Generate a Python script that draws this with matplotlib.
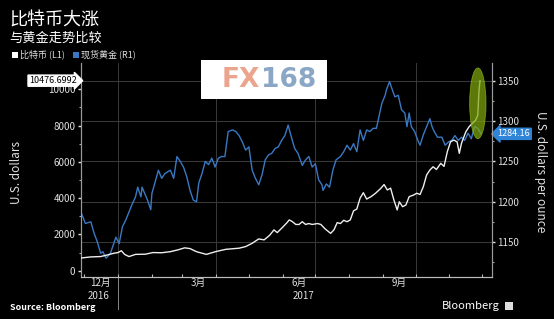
import matplotlib
matplotlib.use('Agg')
import matplotlib.pyplot as plt
import matplotlib.dates as mdates
from matplotlib.patches import Ellipse, Rectangle
from matplotlib.lines import Line2D
from matplotlib.transforms import blended_transform_factory
import pandas as pd
import numpy as np

plt.rcParams['font.family'] = ['Noto Sans CJK SC', 'DejaVu Sans']

title = "比特币大涨"
subtitle = "与黄金走势比较"
btc_label = "比特币 (L1)"
gold_label = "现货黄金 (R1)"

gold_dates = ["2016-11-28", "2016-12-02", "2016-12-07", "2016-12-10", "2016-12-13", "2016-12-16",
              "2016-12-18", "2016-12-21", "2016-12-25", "2016-12-30", "2017-01-02", "2017-01-05",
              "2017-01-08", "2017-01-13", "2017-01-17", "2017-01-19", "2017-01-22", "2017-01-23",
              "2017-01-28", "2017-01-31", "2017-02-01", "2017-02-07", "2017-02-10", "2017-02-13",
              "2017-02-18", "2017-02-21", "2017-02-24", "2017-02-27", "2017-03-02", "2017-03-05",
              "2017-03-08", "2017-03-11", "2017-03-14", "2017-03-16", "2017-03-19", "2017-03-22",
              "2017-03-25", "2017-03-28", "2017-03-31", "2017-04-03", "2017-04-06", "2017-04-09",
              "2017-04-12", "2017-04-16", "2017-04-19", "2017-04-22", "2017-04-25", "2017-04-28",
              "2017-05-01", "2017-05-04", "2017-05-07", "2017-05-10", "2017-05-13", "2017-05-16",
              "2017-05-19", "2017-05-22", "2017-05-25", "2017-05-28", "2017-05-31", "2017-06-03",
              "2017-06-06", "2017-06-09", "2017-06-12", "2017-06-15", "2017-06-19", "2017-06-22",
              "2017-06-25", "2017-06-28", "2017-07-01", "2017-07-04", "2017-07-07", "2017-07-08",
              "2017-07-11", "2017-07-14", "2017-07-17", "2017-07-20", "2017-07-24", "2017-07-27",
              "2017-07-30", "2017-08-02", "2017-08-05", "2017-08-08", "2017-08-11", "2017-08-14",
              "2017-08-17", "2017-08-20", "2017-08-23", "2017-08-26", "2017-08-29", "2017-08-31",
              "2017-09-03", "2017-09-04", "2017-09-07", "2017-09-10", "2017-09-12", "2017-09-15",
              "2017-09-18", "2017-09-21", "2017-09-23", "2017-09-25", "2017-09-27", "2017-09-30",
              "2017-10-03", "2017-10-05", "2017-10-08", "2017-10-11", "2017-10-14", "2017-10-16",
              "2017-10-18", "2017-10-21", "2017-10-25", "2017-10-28", "2017-10-31", "2017-11-03",
              "2017-11-06", "2017-11-09", "2017-11-12", "2017-11-15", "2017-11-18", "2017-11-21",
              "2017-11-24", "2017-11-27", "2017-11-30"]
gold_values = [1187, 1173, 1175, 1161, 1150, 1136,
               1138, 1130, 1136, 1156, 1148, 1169,
               1177, 1194, 1206, 1218, 1206, 1218,
               1202, 1190, 1210, 1239, 1229, 1235,
               1239, 1229, 1256, 1250, 1243, 1231,
               1214, 1202, 1200, 1223, 1235, 1250,
               1246, 1254, 1243, 1254, 1256, 1256,
               1287, 1289, 1287, 1282, 1274, 1264,
               1268, 1239, 1229, 1221, 1233, 1252,
               1258, 1260, 1266, 1268, 1276, 1282,
               1295, 1280, 1266, 1260, 1245, 1252,
               1256, 1243, 1247, 1227, 1221, 1214,
               1222, 1218, 1239, 1252, 1256, 1262,
               1270, 1264, 1272, 1262, 1289, 1276,
               1289, 1287, 1291, 1291, 1310, 1322,
               1332, 1338, 1349, 1337, 1330, 1332,
               1314, 1310, 1293, 1310, 1293, 1287,
               1276, 1270, 1283, 1293, 1303, 1293,
               1287, 1280, 1280, 1270, 1274, 1276,
               1282, 1276, 1280, 1276, 1285, 1278,
               1293, 1291, 1284.16]

btc_dates = ["2016-11-28", "2016-12-07", "2016-12-16", "2016-12-23", "2016-12-28", "2017-01-01",
             "2017-01-04", "2017-01-07", "2017-01-11", "2017-01-17", "2017-01-26", "2017-02-02",
             "2017-02-10", "2017-02-18", "2017-02-25", "2017-03-03", "2017-03-08", "2017-03-14",
             "2017-03-23", "2017-04-01", "2017-04-10", "2017-04-22", "2017-04-28", "2017-05-04",
             "2017-05-10", "2017-05-15", "2017-05-20", "2017-05-24", "2017-05-27", "2017-06-01",
             "2017-06-05", "2017-06-07", "2017-06-10", "2017-06-13", "2017-06-16", "2017-06-19",
             "2017-06-22", "2017-06-25", "2017-06-28", "2017-07-03", "2017-07-06", "2017-07-10",
             "2017-07-15", "2017-07-18", "2017-07-21", "2017-07-24", "2017-07-27", "2017-07-30",
             "2017-08-02", "2017-08-05", "2017-08-08", "2017-08-11", "2017-08-14", "2017-08-17",
             "2017-08-21", "2017-08-25", "2017-08-30", "2017-09-02", "2017-09-05", "2017-09-08",
             "2017-09-11", "2017-09-14", "2017-09-16", "2017-09-19", "2017-09-22", "2017-09-25",
             "2017-09-29", "2017-10-02", "2017-10-05", "2017-10-08", "2017-10-11", "2017-10-14",
             "2017-10-17", "2017-10-20", "2017-10-24", "2017-10-27", "2017-10-30", "2017-11-02",
             "2017-11-05", "2017-11-08", "2017-11-10", "2017-11-12", "2017-11-16", "2017-11-19",
             "2017-11-22", "2017-11-25", "2017-11-27", "2017-11-28", "2017-11-29"]
btc_values = [700, 760, 780, 880, 960, 1000,
              1100, 900, 780, 900, 910, 1000,
              990, 1050, 1150, 1260, 1220, 1047,
              900, 1060, 1180, 1240, 1330, 1510,
              1750, 1700, 1950, 2250, 2100, 2400,
              2650, 2800, 2700, 2550, 2550, 2700,
              2550, 2600, 2550, 2600, 2550, 2300,
              2060, 2250, 2650, 2600, 2780, 2700,
              2800, 3300, 3400, 4000, 4300, 3950,
              4080, 4260, 4540, 4750, 4450, 4550,
              3900, 3350, 3800, 3530, 3620, 4080,
              4170, 4270, 4200, 4630, 5275, 5550,
              5730, 5580, 5920, 5750, 6560, 7110,
              7200, 7100, 6470, 7020, 7660, 7940,
              8120, 8300, 8580, 9870, 10476.6992]

left_ticks = [0, 2000, 4000, 6000, 8000, 10000]
right_ticks = [1150, 1200, 1250, 1300, 1350]
month_labels = ["12月", "3月", "6月", "9月"]
month_label_dates = ["2016-12-16", "2017-03-16", "2017-06-16", "2017-09-16"]
year_labels = ["2016", "2017"]
year_label_dates = ["2016-12-14", "2017-06-20"]
year_sep_date = "2017-01-01"
grid_dates = ["2017-01-01", "2017-04-01", "2017-07-01", "2017-10-01"]

BG = 'black'
TXT = '#e0e0e0'
GRID = '#3a3a3a'
BLUE = '#3a78c4'

gd = pd.to_datetime(gold_dates)
bd = pd.to_datetime(btc_dates)

W, H = 554, 319
fig = plt.figure(figsize=(W / 100, H / 100), dpi=100, facecolor=BG)
axg = fig.add_axes([81 / W, 42 / H, (492 - 81) / W, (277 - 63) / H])
axg.set_facecolor(BG)
axb = axg.twinx()
axb.patch.set_visible(False)
axg.yaxis.tick_right()
axg.yaxis.set_label_position('right')
axb.yaxis.tick_left()
axb.yaxis.set_label_position('left')

xmin = pd.Timestamp("2016-11-28")
xmax = pd.Timestamp("2017-12-10")
axg.set_xlim(xmin, xmax)
axg.set_ylim(1106.6, 1372)
axb.set_ylim(-347, 11450)

# grid
axg.set_yticks(right_ticks)
axg.set_yticks(np.arange(1125, 1372, 25), minor=True)
axg.yaxis.grid(True, which='major', color=GRID, lw=0.7)
for gdate in grid_dates:
    axg.axvline(pd.Timestamp(gdate), color=GRID, lw=0.7, zorder=0)

axg.plot(gd, gold_values, color=BLUE, lw=1.0, zorder=3)
axb.plot(bd, btc_values, color='#eeeeee', lw=1.0, zorder=3)

axb.set_yticks(left_ticks)
axb.set_yticks(np.arange(1000, 11000, 2000), minor=True)

# spines
for a in (axg, axb):
    a.spines['top'].set_visible(False)
    a.spines['left'].set_color('#9a9a9a')
    a.spines['right'].set_color('#9a9a9a')
    a.spines['bottom'].set_color('#bbbbbb')
    for s in ['left', 'right', 'bottom']:
        a.spines[s].set_linewidth(0.8)

axg.tick_params(axis='y', which='both', left=False, labelleft=False, right=True, labelright=True)
axb.tick_params(axis='y', which='both', left=True, labelleft=True, right=False, labelright=False)
axg.tick_params(axis='y', which='major', colors=TXT, labelsize=7, length=2.5, width=1, pad=1.5)
axg.tick_params(axis='y', which='minor', colors='#aaaaaa', length=1.5, width=0.8)
axb.tick_params(axis='y', which='major', colors=TXT, labelsize=7, length=2.5, width=1, pad=1.5)
axb.tick_params(axis='y', which='minor', colors='#aaaaaa', length=1.5, width=0.8)

# x axis: monthly ticks, labels mid-month
axg.xaxis.set_major_locator(mdates.MonthLocator())
axg.xaxis.set_major_formatter(plt.NullFormatter())
axg.tick_params(axis='x', which='major', colors='#bbbbbb', direction='in', length=2.5, width=0.8)
axg.set_xticks(pd.to_datetime(month_label_dates), minor=True)
axg.set_xticklabels(month_labels, minor=True)
axg.tick_params(axis='x', which='minor', length=0, labelsize=7, labelcolor=TXT, pad=1)
axb.tick_params(axis='x', which='both', length=0, labelbottom=False)

trans = blended_transform_factory(axg.transData, axg.transAxes)
for lab, d in zip(year_labels, year_label_dates):
    axg.text(pd.Timestamp(d), -0.087, lab, transform=trans, ha='center', va='center',
             color=TXT, fontsize=7)
axg.add_line(Line2D([mdates.date2num(pd.Timestamp(year_sep_date))] * 2, [0, -0.15],
                    transform=trans, color='#888888', lw=0.7, clip_on=False))

# end value labels
axb.annotate(f"{btc_values[-1]:.4f}", xy=(0, btc_values[-1]),
             xycoords=blended_transform_factory(axb.transAxes, axb.transData),
             xytext=(-3, 0), textcoords='offset points', ha='right', va='center',
             fontsize=6.5, color='black',
             bbox=dict(boxstyle='rarrow,pad=0.12', fc='white', ec='white'),
             annotation_clip=False, zorder=6)
axg.annotate(f"{gold_values[-1]:.2f}", xy=(1, gold_values[-1]),
             xycoords=blended_transform_factory(axg.transAxes, axg.transData),
             xytext=(4, 0), textcoords='offset points', ha='left', va='center',
             fontsize=6.5, color='white',
             bbox=dict(boxstyle='larrow,pad=0.12', fc='#2f86d8', ec='#2f86d8'),
             annotation_clip=False, zorder=6)

# highlight ellipse around bitcoin spike
ecx = mdates.date2num(bd[-1]) - 2
ell = Ellipse((ecx, btc_values[-1] - 1250), width=15, height=3900,
              facecolor='#7fa80c', edgecolor='#8fb81c', alpha=0.72, lw=0.6, zorder=5)
axb.add_patch(ell)

# axis labels
fig.text(17 / W, 1 - 172 / H, "U.S. dollars", rotation=90, ha='center', va='center',
         color=TXT, fontsize=8.5)
fig.text(541 / W, 1 - 172 / H, "U.S. dollars per ounce", rotation=270, ha='center', va='center',
         color=TXT, fontsize=8.5)

# titles
fig.text(9 / W, 1 - 21 / H, title, ha='left', va='center', color='white', fontsize=13)
fig.text(9 / W, 1 - 38 / H, subtitle, ha='left', va='center', color='white', fontsize=9.5)

# legend
fig.patches.append(Rectangle((12 / W, 1 - 57.5 / H), 6 / W, 6 / H, transform=fig.transFigure,
                             facecolor='white', edgecolor='none'))
fig.text(20 / W, 1 - 54.5 / H, btc_label, ha='left', va='center', color=TXT, fontsize=6.5)
fig.patches.append(Rectangle((73 / W, 1 - 57.5 / H), 6 / W, 6 / H, transform=fig.transFigure,
                             facecolor=BLUE, edgecolor='none'))
fig.text(81 / W, 1 - 54.5 / H, gold_label, ha='left', va='center', color=TXT, fontsize=6.5)

# FX168 watermark
fig.patches.append(Rectangle((201 / W, 1 - 99 / H), 126 / W, 39 / H, transform=fig.transFigure,
                             facecolor='white', edgecolor='none', zorder=10))
fig.text(260 / W, 1 - 80 / H, "FX", ha='right', va='center', color='#eba58f',
         fontsize=19, fontweight='bold', family='DejaVu Sans', zorder=11)
fig.text(261 / W, 1 - 80 / H, "168", ha='left', va='center', color='#8aa7c6',
         fontsize=19, fontweight='bold', family='DejaVu Sans', zorder=11)

# footer
fig.text(10 / W, 1 - 307 / H, "Source: Bloomberg", ha='left', va='center', color='white',
         fontsize=6.5, fontweight='bold')
fig.text(500 / W, 1 - 306 / H, "Bloomberg", ha='right', va='center', color='white', fontsize=8)
fig.patches.append(Rectangle((505 / W, 1 - 310 / H), 8 / W, 8 / H, transform=fig.transFigure,
                             facecolor='#dddddd', edgecolor='none'))

fig.savefig('out.png', dpi=100, facecolor=BG)
